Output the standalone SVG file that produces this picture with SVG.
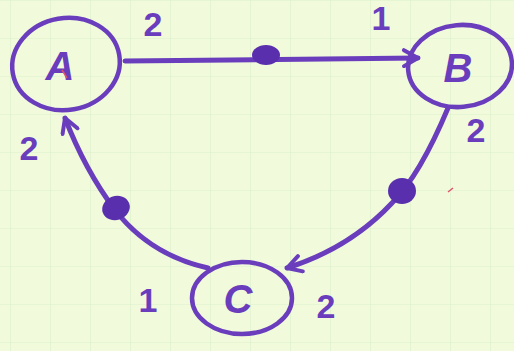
<svg xmlns="http://www.w3.org/2000/svg" width="514" height="351" viewBox="0 0 514 351">
<defs>
<pattern id="grid" width="40" height="38" patternUnits="userSpaceOnUse" x="10" y="0">
<path d="M0 0H40M0 0V38" fill="none" stroke="#dcefca" stroke-width="1.2"/>
</pattern>
<marker id="arr" viewBox="0 0 20 20" refX="17" refY="10" markerWidth="20" markerHeight="20" markerUnits="userSpaceOnUse" orient="auto">
<path d="M3 2L17 10L3 18" fill="none" stroke="#6a3dbd" stroke-width="4" stroke-linecap="round" stroke-linejoin="round"/>
</marker>
<style>
.n{fill:none;stroke:#6a3dbd;stroke-width:4.5;stroke-linecap:round}
.e{fill:none;stroke:#6a3dbd;stroke-width:5;stroke-linecap:round}
.d{fill:#5a2fae}
.t{font-family:"Liberation Sans",Arial,sans-serif;fill:#6a3dbd;font-size:40px;font-weight:bold;text-anchor:middle;font-style:italic}
.l{font-family:"Liberation Sans",Arial,sans-serif;fill:#6a3dbd;font-size:34px;font-weight:bold;text-anchor:middle}
</style>
</defs>
<rect width="514" height="351" fill="#f1fbdc"/>
<rect width="514" height="351" fill="url(#grid)"/>
<g id="connectors">
<path class="e" d="M125 61 L418 58" marker-end="url(#arr)"/>
<ellipse class="d" cx="266" cy="55" rx="14" ry="10"/>
<path class="e" d="M448 108 Q420 175 392 203 Q350 248 287 268" marker-end="url(#arr)"/>
<ellipse class="d" cx="402" cy="191" rx="14" ry="13"/>
<path class="e" d="M208 268 Q150 255 115 210 Q85 170 65 118" marker-end="url(#arr)"/>
<ellipse class="d" cx="116" cy="208" rx="14" ry="12" transform="rotate(-20 116 208)"/>
</g>
<g id="A">
<ellipse class="n" cx="66" cy="64" rx="54" ry="46" transform="rotate(-10 66 64)"/>
<text class="t" x="60" y="80">A</text>
</g>
<g id="B">
<ellipse class="n" cx="460" cy="66" rx="52" ry="41" transform="rotate(-5 460 66)"/>
<text class="t" x="458" y="82">B</text>
</g>
<g id="C">
<ellipse class="n" cx="242" cy="298" rx="50" ry="36"/>
<text class="t" x="238" y="313" font-size="44">C</text>
</g>
<g id="labels">
<text class="l" x="153" y="36">2</text>
<text class="l" x="381" y="30">1</text>
<text class="l" x="476" y="142">2</text>
<text class="l" x="29" y="160">2</text>
<text class="l" x="148" y="312">1</text>
<text class="l" x="326" y="318">2</text>
</g>
<g id="marks">
<path d="M62 70 L67 78" stroke="#e0506a" stroke-width="1.5" fill="none"/>
<path d="M448 192 L453 188" stroke="#e0506a" stroke-width="1.5" fill="none"/>
</g>
</svg>
